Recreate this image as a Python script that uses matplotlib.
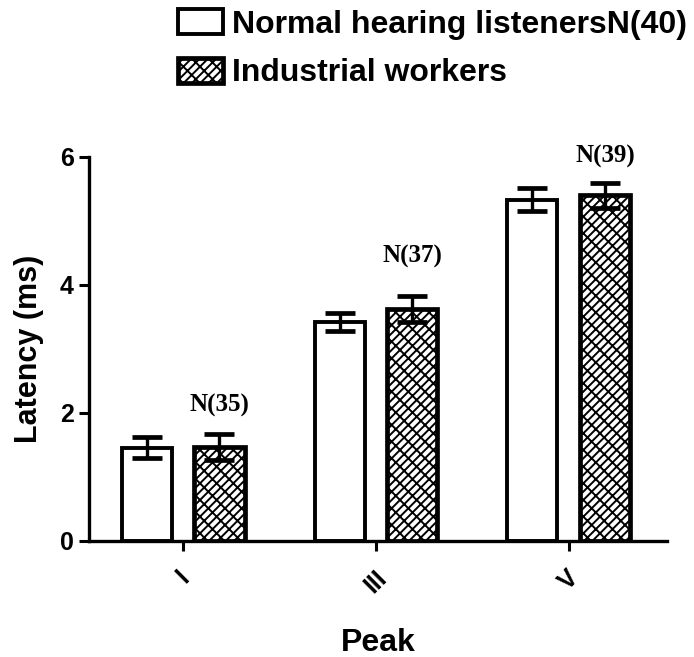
import numpy as np
import matplotlib.pyplot as plt

peaks = ["I", "III", "V"]
normal_mean = [1.46, 3.42, 5.33]
normal_sd = [0.16, 0.14, 0.18]
worker_mean = [1.47, 3.62, 5.40]
worker_sd = [0.20, 0.20, 0.19]
n_labels = ["N(35)", "N(37)", "N(39)"]
n_label_y = [1.94, 4.27, 5.82]

plt.rcParams['font.family'] = ['Liberation Sans', 'DejaVu Sans']
plt.rcParams['hatch.linewidth'] = 1.4

fig = plt.figure(figsize=(6.94, 6.57), dpi=100)
ax = fig.add_axes([0.128, 0.1766, 0.833, 0.5845])

x = np.arange(len(peaks))
w = 0.26
off = 0.188
err_kw = dict(ecolor='black', elinewidth=2.4, capsize=11, capthick=3.4)

ax.bar(x - off, normal_mean, w, yerr=normal_sd, color='white', edgecolor='black',
       linewidth=2.8, error_kw=err_kw, label='Normal hearing listenersN(40)', zorder=2)
ax.bar(x + off, worker_mean, w, yerr=worker_sd, color='white', edgecolor='black',
       linewidth=3.4, hatch='////\\\\', error_kw=err_kw, label='Industrial workers', zorder=2)

# sample sizes above the worker bars
for xi, yl, lab in zip(x, n_label_y, n_labels):
    ax.text(xi + off, yl, lab, ha='center', va='bottom', fontsize=18,
            fontweight='bold', family='Liberation Serif')

ax.set_xlim(-0.49, 2.51)
ax.set_ylim(0, 6)
ax.set_yticks([0, 2, 4, 6])
ax.set_xticks(x)
ax.set_xticklabels(peaks, rotation=45, ha='center', va='top')
for sp in ['top', 'right']:
    ax.spines[sp].set_visible(False)
for sp in ['left', 'bottom']:
    ax.spines[sp].set_linewidth(2.4)
ax.tick_params(width=2.2, length=7, labelsize=18, pad=4)
for t in ax.get_xticklabels() + ax.get_yticklabels():
    t.set_fontweight('bold')
ax.tick_params(axis='x', pad=11)

ax.set_ylabel('Latency (ms)', fontsize=22, fontweight='bold', labelpad=11)
ax.set_xlabel('Peak', fontsize=23, fontweight='bold', labelpad=22)

fig.legend(loc='upper left', bbox_to_anchor=(0.224, 1.02), frameon=False,
           prop={'weight': 'bold', 'size': 23}, handlelength=1.4, handleheight=0.8,
           handletextpad=0.3, labelspacing=0.58, borderpad=0.2)

fig.savefig('out.png', dpi=100)
